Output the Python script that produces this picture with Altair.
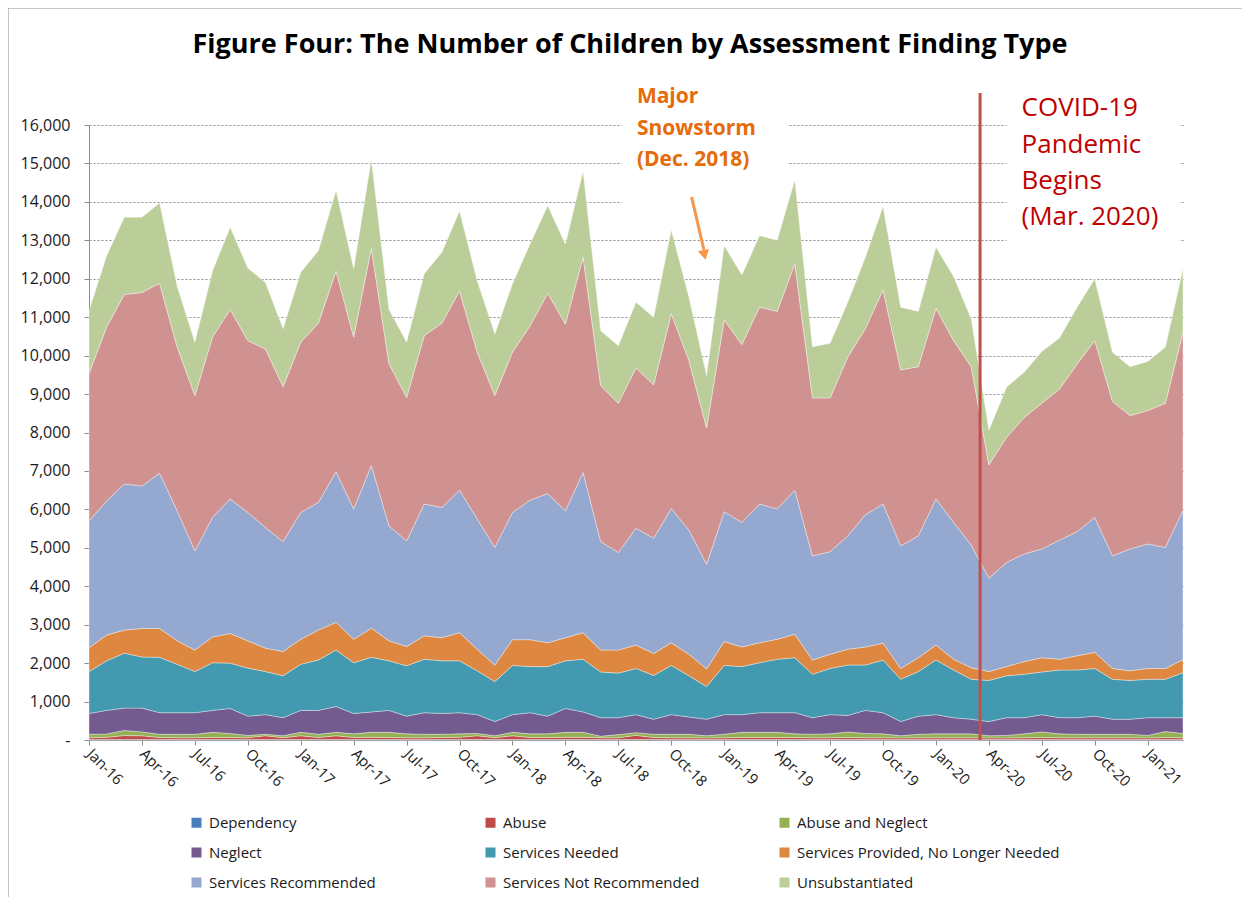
import altair as alt
import pandas as pd

# ---------------- data ----------------
MONTH_NAMES = ["Jan", "Feb", "Mar", "Apr", "May", "Jun",
               "Jul", "Aug", "Sep", "Oct", "Nov", "Dec"]
YEARS = ["16", "17", "18", "19", "20", "21"]
MONTHS = [f"{m}-{y}" for y in YEARS for m in MONTH_NAMES][:63]

SERIES = ["Dependency", "Abuse", "Abuse and Neglect", "Neglect",
          "Services Needed", "Services Provided, No Longer Needed",
          "Services Recommended", "Services Not Recommended", "Unsubstantiated"]
COLORS = ["#4A7EBB", "#BE4B48", "#93B152", "#735A8F", "#4399AF",
          "#DD8740", "#95A9D0", "#D09291", "#BBCE9A"]

DEPENDENCY = [10, 10, 15, 15, 10, 10, 10, 10, 10, 10,
              10, 10, 10, 10, 10, 10, 10, 10, 10, 10,
              10, 10, 10, 10, 10, 10, 10, 10, 10, 10,
              10, 10, 10, 10, 10, 10, 10, 10, 10, 10,
              10, 10, 10, 10, 10, 10, 10, 10, 10, 10,
              10, 10, 10, 10, 10, 10, 10, 10, 10, 10,
              10, 10, 10]
ABUSE = [50, 60, 100, 95, 55, 50, 50, 55, 55, 50,
         100, 50, 100, 55, 100, 55, 60, 55, 50, 50,
         55, 60, 100, 50, 100, 55, 55, 60, 60, 50,
         50, 110, 55, 50, 50, 45, 50, 55, 55, 55,
         55, 50, 50, 55, 50, 50, 45, 50, 50, 50,
         50, 45, 45, 50, 55, 50, 50, 50, 50, 50,
         45, 55, 50]
ABUSE_NEGLECT = [90, 85, 135, 100, 85, 90, 90, 135, 105, 60,
                 40, 50, 90, 85, 90, 95, 130, 135, 100, 90,
                 85, 90, 60, 50, 90, 95, 95, 130, 130, 40,
                 80, 70, 85, 90, 90, 55, 90, 135, 135, 135,
                 95, 90, 100, 145, 110, 100, 55, 90, 100, 100,
                 100, 55, 65, 100, 145, 100, 90, 90, 90, 90,
                 65, 155, 110]
NEGLECT = [540, 615, 580, 620, 560, 560, 560, 570, 650, 500,
           510, 470, 570, 620, 670, 530, 530, 570, 460, 560,
           540, 550, 490, 370, 460, 550, 460, 620, 530, 480,
           440, 470, 390, 510, 450, 430, 510, 460, 510, 510,
           550, 430, 500, 430, 600, 550, 370, 470, 500, 420,
           380, 370, 460, 420, 450, 420, 430, 470, 390, 390,
           460, 360, 410]
SERVICES_NEEDED = [1090, 1290, 1430, 1330, 1440, 1260, 1070, 1240, 1180, 1250,
                   1120, 1090, 1200, 1310, 1470, 1320, 1420, 1290, 1310, 1390,
                   1370, 1350, 1140, 1040, 1280, 1200, 1290, 1240, 1370, 1190,
                   1160, 1200, 1140, 1280, 1070, 850, 1280, 1250, 1300, 1390,
                   1430, 1130, 1200, 1310, 1180, 1370, 1100, 1160, 1420, 1240,
                   1040, 1070, 1090, 1130, 1110, 1240, 1240, 1240, 1040, 1010,
                   1000, 1000, 1170]
SERVICES_PROVIDED = [620, 670, 600, 740, 750, 610, 560, 670, 770, 710,
                     610, 630, 650, 780, 720, 610, 760, 520, 500, 610,
                     600, 730, 560, 430, 670, 700, 620, 600, 690, 570,
                     600, 610, 570, 590, 560, 460, 620, 510, 520, 520,
                     610, 370, 370, 410, 470, 440, 280, 360, 390, 280,
                     300, 230, 240, 330, 370, 280, 370, 420, 280, 250,
                     280, 280, 340]
SERVICES_RECOMMENDED = [3300, 3490, 3800, 3710, 4040, 3380, 2580, 3110, 3500, 3340,
                        3140, 2860, 3300, 3320, 3920, 3390, 4230, 2990, 2750, 3430,
                        3390, 3710, 3390, 3060, 3310, 3630, 3880, 3300, 4170, 2820,
                        2540, 3040, 3000, 3490, 3230, 2720, 3380, 3240, 3610, 3390,
                        3750, 2710, 2670, 2950, 3440, 3620, 3190, 3170, 3800, 3560,
                        3190, 2430, 2710, 2800, 2830, 3100, 3230, 3510, 2930, 3170,
                        3240, 3150, 3890]
SERVICES_NOT_RECOMMENDED = [3830, 4520, 4930, 5030, 4940, 4260, 4040, 4690, 4930, 4470,
                            4640, 4030, 4430, 4660, 5220, 4470, 5650, 4220, 3730, 4380,
                            4790, 5180, 4340, 3950, 4170, 4540, 5210, 4860, 5600, 4060,
                            3880, 4170, 3990, 5070, 4410, 3550, 4990, 4630, 5120, 5140,
                            5890, 4110, 4000, 4650, 4840, 5570, 4580, 4400, 4960, 4730,
                            4640, 2950, 3250, 3550, 3790, 3930, 4360, 4600, 4020, 3470,
                            3470, 3750, 4630]
UNSUBSTANTIATED = [1640, 1860, 2010, 1960, 2090, 1580, 1390, 1720, 2140, 1890,
                   1730, 1510, 1820, 1890, 2100, 1780, 2310, 1410, 1440, 1610,
                   1850, 2080, 1860, 1600, 1780, 2130, 2280, 2080, 2240, 1430,
                   1500, 1710, 1760, 2180, 1650, 1360, 1930, 1810, 1860, 1850,
                   2180, 1330, 1420, 1430, 1860, 2170, 1630, 1440, 1590, 1670,
                   1240, 900, 1310, 1180, 1350, 1330, 1480, 1610, 1280, 1270,
                   1280, 1460, 1650]

VALUES = [DEPENDENCY, ABUSE, ABUSE_NEGLECT, NEGLECT, SERVICES_NEEDED,
          SERVICES_PROVIDED, SERVICES_RECOMMENDED, SERVICES_NOT_RECOMMENDED,
          UNSUBSTANTIATED]

Y_TICKS = list(range(0, 16001, 1000))
X_TICKS = list(range(0, 63, 3))

TITLE = "Figure Four: The Number of Children by Assessment Finding Type"
SNOW_LINES = ["Major", "Snowstorm", "(Dec. 2018)"]
COVID_LINES = ["COVID-19", "Pandemic", "Begins", "(Mar. 2020)"]

# ---------------- tables ----------------
rows = []
for s_i, (name, vals) in enumerate(zip(SERIES, VALUES)):
    for m_i, v in enumerate(vals):
        rows.append({"idx": m_i, "month": MONTHS[m_i], "series": name,
                     "ord": s_i, "value": v})
df = pd.DataFrame(rows)

FONT = "Open Sans"
XS = alt.Scale(domain=[0, 62], nice=False, zero=False)
YS = alt.Scale(domain=[0, 16000], nice=False)

label_array = "[" + ",".join("'" + m + "'" for m in MONTHS) + "]"

x_axis = alt.Axis(values=X_TICKS, labelExpr=label_array + "[datum.value]",
                  labelAngle=45, labelAlign="left", labelBaseline="middle",
                  labelPadding=6, labelOverlap=False, labelFlush=False,
                  labelFont=FONT, labelFontSize=15, labelColor="#1a1a1a",
                  tickSize=5, tickColor="#8c8c8c", domainColor="#8c8c8c",
                  grid=False, title=None)
y_axis = alt.Axis(values=Y_TICKS, tickCount=17,
                  labelExpr="datum.value == 0 ? '-' : format(datum.value, ',')",
                  labelOverlap=False, labelFlush=False,
                  labelFont=FONT, labelFontSize=16, labelColor="#1a1a1a",
                  labelPadding=14, tickSize=5, tickColor="#8c8c8c",
                  domainColor="#8c8c8c", grid=True, gridDash=[2, 2],
                  gridColor="#8c8c8c", gridWidth=1, title=None)


def X(field="idx:Q"):
    return alt.X(field, scale=XS, axis=x_axis)


def Y(field="value:Q", **kw):
    return alt.Y(field, scale=YS, axis=y_axis, **kw)


# white boxes behind the annotations (hide gridlines)
boxes = pd.DataFrame({"idx": [30.2, 52.0], "idx2": [39.6, 61.8],
                      "value": [13700, 12700], "value2": [17600, 17600]})
box_layer = alt.Chart(boxes).mark_rect(color="white").encode(
    x=X(), x2="idx2:Q", y=Y(), y2="value2:Q")

areas = alt.Chart(df).mark_area(orient="vertical", stroke="white",
                                strokeWidth=0.6, strokeOpacity=0.6).encode(
    x=X(),
    y=Y(stack="zero"),
    color=alt.Color("series:N",
                    scale=alt.Scale(domain=SERIES, range=COLORS),
                    legend=alt.Legend(orient="none", legendX=100, legendY=690,
                                      columns=3, direction="horizontal",
                                      gridAlign="all",
                                      symbolType="square", symbolSize=100,
                                      symbolStrokeWidth=0, labelFont=FONT,
                                      labelFontSize=15, labelColor="#1a1a1a",
                                      labelLimit=400,
                                      labelOffset=5, rowPadding=14,
                                      columnPadding=11, title=None)),
    order=alt.Order("ord:Q"))

covid_rule = alt.Chart(pd.DataFrame({"idx": [50.5], "value": [16833],
                                     "value2": [0]})).mark_rule(
    color="#C0504D", strokeWidth=3).encode(x=X(), y=Y(), y2="value2:Q")

arrow = alt.Chart(pd.DataFrame({"idx": [34.15], "value": [14127],
                                "idx2": [34.85], "value2": [12750]})).mark_rule(
    color="#F79646", strokeWidth=3).encode(
    x=X(), x2="idx2:Q", y=Y(), y2="value2:Q")
arrow_head = alt.Chart(pd.DataFrame({"idx": [34.88], "value": [12620]})).mark_point(
    shape="triangle-down", filled=True, size=130, angle=348, opacity=1,
    color="#F79646").encode(x=X(), y=Y())

snow_df = pd.DataFrame({"idx": [31.05] * 3, "value": [16720, 15900, 15100],
                        "text": SNOW_LINES})
snow_text = alt.Chart(snow_df).mark_text(
    align="left", baseline="middle", font=FONT, fontSize=21,
    fontWeight="bold", color="#E46C0A").encode(x=X(), y=Y(), text="text:N")

covid_df = pd.DataFrame({"idx": [52.85] * 4,
                         "value": [16440, 15480, 14540, 13600],
                         "text": COVID_LINES})
covid_text = alt.Chart(covid_df).mark_text(
    align="left", baseline="middle", font=FONT, fontSize=26,
    color="#C00000").encode(x=X(), y=Y(), text="text:N")

one = pd.DataFrame({"a": [0]})
title = alt.Chart(one).mark_text(
    align="center", baseline="middle", font=FONT, fontSize=27,
    fontWeight="bold", color="#000000").encode(
    x=alt.value(541), y=alt.value(-80), text=alt.value(TITLE))

border = alt.Chart(one).mark_rect(filled=False, stroke="#8c8c8c",
                                  strokeWidth=1).encode(
    x=alt.value(-81), x2=alt.value(1250), y=alt.value(-117), y2=alt.value(900))

chart = alt.layer(box_layer, areas, covid_rule, arrow, arrow_head,
                  snow_text, covid_text, title, border).properties(
    width=1094, height=615,
    autosize=alt.AutoSizeParams(type="none"),
    padding={"left": 81, "top": 117, "right": 59, "bottom": 157},
).configure_view(strokeWidth=0)

chart.save("out.html", embed_options={"renderer": "svg", "actions": False})
